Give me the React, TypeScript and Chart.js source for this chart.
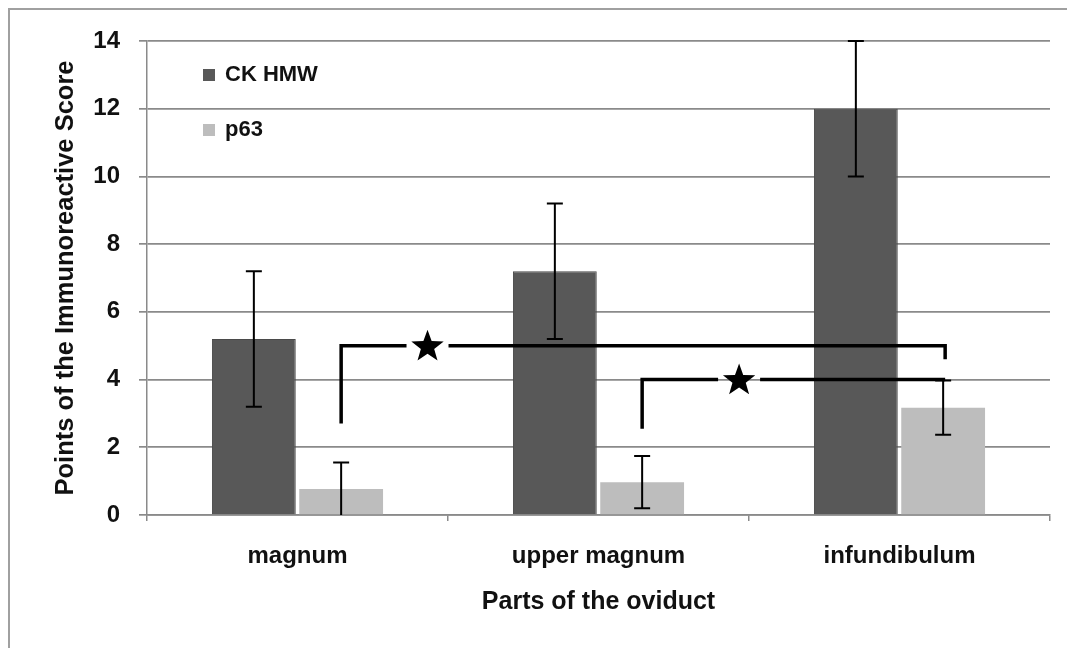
import React, { useEffect, useRef } from "react";
import { Chart, registerables } from "chart.js";

Chart.register(...registerables);

const categories = ["magnum", "upper magnum", "infundibulum"];
const seriesNames = ["CK HMW", "p63"];
const ckValues = [5.2, 7.2, 12.0];
const ckErrors = [2.0, 2.0, 2.0];
const p63Values = [0.77, 0.97, 3.17];
const p63Errors = [0.78, 0.77, 0.8];
const yTicks = [0, 2, 4, 6, 8, 10, 12, 14];
// significance brackets: from p63 bar of category A to p63 bar of category B
const bracketFrom = [0, 1];
const bracketTo = [2, 2];
const bracketLevel = [5.0, 4.0];
const bracketLeftFoot = [2.7, 2.55];
const bracketRightFoot = [4.6, 4.0];
const bracketStarPos = [0.143, 0.32];

const FONT = "'Liberation Sans', Arial, sans-serif";
const DARK = "#585858";
const LIGHT = "#bdbdbd";

const errorBarPlugin = {
  id: "errorBars",
  afterDatasetsDraw(chart: any) {
    const ctx = chart.ctx;
    const y = chart.scales.y;
    const errs = [ckErrors, p63Errors];
    ctx.save();
    ctx.strokeStyle = "#000";
    ctx.lineWidth = 2;
    chart.data.datasets.forEach((ds: any, di: number) => {
      const meta = chart.getDatasetMeta(di);
      meta.data.forEach((bar: any, i: number) => {
        const v = ds.data[i];
        const e = errs[di][i];
        const top = y.getPixelForValue(v + e);
        const bot = y.getPixelForValue(Math.max(0, v - e));
        const x = bar.x;
        ctx.beginPath();
        ctx.moveTo(x, top);
        ctx.lineTo(x, bot);
        ctx.moveTo(x - 8, top);
        ctx.lineTo(x + 8, top);
        if (v - e > 0.05) {
          ctx.moveTo(x - 8, bot);
          ctx.lineTo(x + 8, bot);
        }
        ctx.stroke();
      });
    });
    ctx.restore();
  },
};

function drawStar(ctx: any, cx: number, cy: number, ro: number, ri: number) {
  ctx.beginPath();
  for (let k = 0; k < 10; k++) {
    const r = k % 2 === 0 ? ro : ri;
    const a = -Math.PI / 2 + (k * Math.PI) / 5;
    const px = cx + r * Math.cos(a);
    const py = cy + r * Math.sin(a);
    if (k === 0) ctx.moveTo(px, py);
    else ctx.lineTo(px, py);
  }
  ctx.closePath();
  ctx.fill();
}

const bracketPlugin = {
  id: "brackets",
  afterDatasetsDraw(chart: any) {
    const ctx = chart.ctx;
    const y = chart.scales.y;
    const meta = chart.getDatasetMeta(1);
    ctx.save();
    ctx.strokeStyle = "#000";
    ctx.fillStyle = "#000";
    ctx.lineWidth = 3.5;
    bracketFrom.forEach((fromIdx, b) => {
      const x1 = meta.data[fromIdx].x;
      const x2 = meta.data[bracketTo[b]].x + 2;
      const yl = y.getPixelForValue(bracketLevel[b]);
      const yf1 = y.getPixelForValue(bracketLeftFoot[b]);
      const yf2 = y.getPixelForValue(bracketRightFoot[b]);
      const sx = x1 + (x2 - x1) * bracketStarPos[b];
      const gap = 21;
      ctx.beginPath();
      ctx.moveTo(x1, yf1);
      ctx.lineTo(x1, yl);
      ctx.lineTo(sx - gap, yl);
      ctx.moveTo(sx + gap, yl);
      ctx.lineTo(x2, yl);
      ctx.lineTo(x2, yf2);
      ctx.stroke();
      drawStar(ctx, sx, yl + 1, 17, 7);
    });
    ctx.restore();
  },
};

const legendPlugin = {
  id: "insideLegend",
  afterDraw(chart: any) {
    const ctx = chart.ctx;
    const a = chart.chartArea;
    const colors = [DARK, LIGHT];
    const rows = [34, 89];
    ctx.save();
    ctx.font = `bold 22px ${FONT}`;
    ctx.textBaseline = "middle";
    seriesNames.forEach((name, i) => {
      const cy = a.top + rows[i];
      ctx.fillStyle = colors[i];
      ctx.fillRect(a.left + 56, cy - 6, 12, 12);
      ctx.fillStyle = "#111";
      ctx.fillText(name, a.left + 78, cy);
    });
    ctx.restore();
  },
};

export default function App() {
  const ref = useRef<HTMLCanvasElement>(null);
  useEffect(() => {
    document.body.style.overflow = "hidden";
    const chart = new Chart(ref.current!, {
      type: "bar",
      data: {
        labels: categories,
        datasets: [
          {
            label: seriesNames[0],
            data: ckValues,
            backgroundColor: DARK,
            borderColor: "#4a4a4a",
            borderWidth: 1,
            categoryPercentage: 0.58,
            barPercentage: 0.96,
          },
          {
            label: seriesNames[1],
            data: p63Values,
            backgroundColor: LIGHT,
            borderWidth: 0,
            categoryPercentage: 0.58,
            barPercentage: 0.96,
          },
        ],
      },
      options: {
        animation: false,
        responsive: false,
        maintainAspectRatio: false,
        layout: { padding: { top: 31, right: 25, left: 0, bottom: 0 } },
        plugins: { legend: { display: false }, tooltip: { enabled: false } },
        scales: {
          x: {
            grid: {
              display: true,
              drawOnChartArea: false,
              drawTicks: true,
              tickLength: 6,
              color: "#8a8a8a",
              lineWidth: 1.5,
              offset: true,
            },
            border: { display: true, color: "#8a8a8a", width: 1.5 },
            ticks: {
              color: "#111",
              font: { family: FONT, size: 24, weight: "bold" },
              padding: 21,
            },
            title: {
              display: true,
              text: "Parts of the oviduct",
              color: "#111",
              font: { family: FONT, size: 25, weight: "bold" },
              padding: { top: 0, bottom: 31 },
            },
            afterFit(scale: any) {
              scale.height = 133;
            },
          },
          y: {
            min: 0,
            max: 14,
            afterBuildTicks(scale: any) {
              scale.ticks = yTicks.map((v) => ({ value: v }));
            },
            grid: {
              color: "#8a8a8a",
              lineWidth: 1.7,
              tickLength: 8,
            },
            border: { display: true, color: "#8a8a8a", width: 1.5 },
            ticks: {
              color: "#111",
              font: { family: FONT, size: 24, weight: "bold", lineHeight: 1 },
              padding: 19,
            },
            title: {
              display: true,
              text: "Points of the Immunoreactive Score",
              color: "#111",
              font: { family: FONT, size: 25.5, weight: "bold" },
              padding: { top: 41, bottom: 0 },
            },
            afterFit(scale: any) {
              scale.width = 137;
            },
          },
        },
      },
      plugins: [errorBarPlugin, bracketPlugin, legendPlugin],
    });
    return () => chart.destroy();
  }, []);
  return (
    <div
      style={{
        width: 1067,
        height: 640,
        borderLeft: "2px solid #a0a0a0",
        borderTop: "2px solid #a0a0a0",
        boxSizing: "border-box",
        background: "#fff",
      }}
    >
      <canvas ref={ref} width={1065} height={638} style={{ display: "block" }} />
    </div>
  );
}
